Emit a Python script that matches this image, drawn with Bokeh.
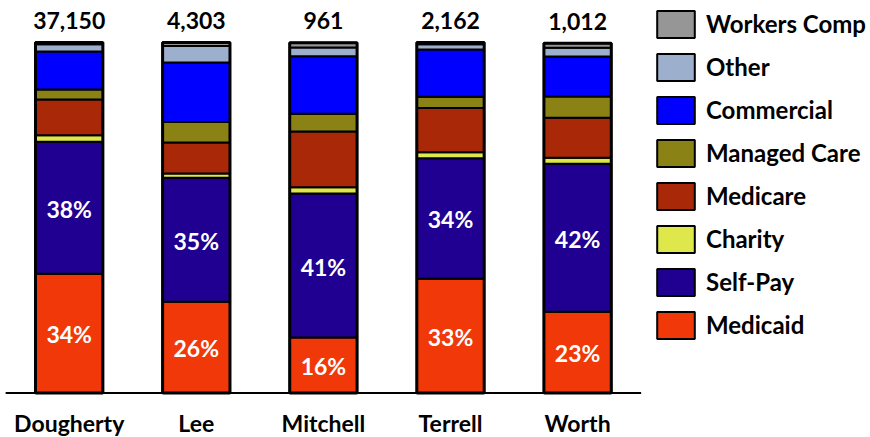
from bokeh.plotting import figure
from bokeh.models import ColumnDataSource, Range1d
from bokeh.embed import file_html
from bokeh.resources import INLINE
from bokeh.core.properties import value

# ---- data (percent of visits, bottom to top) ----
counties = ["Dougherty", "Lee", "Mitchell", "Terrell", "Worth"]
totals = [37150, 4303, 961, 2162, 1012]

medicaid = [34.0, 26.0, 15.8, 32.6, 23.2]
self_pay = [37.7, 35.4, 41.1, 34.4, 42.2]
charity = [1.8, 1.2, 1.8, 1.7, 1.7]
medicare = [10.2, 8.9, 15.9, 12.6, 11.4]
managed_care = [2.9, 5.8, 5.1, 3.2, 6.1]
commercial = [10.8, 17.0, 16.4, 13.5, 11.4]
other = [2.1, 4.7, 2.5, 1.5, 2.5]
workers_comp = [0.5, 1.0, 1.3, 0.5, 1.3]

series_names = ["Medicaid", "Self-Pay", "Charity", "Medicare",
                "Managed Care", "Commercial", "Other", "Workers Comp"]
series_values = [medicaid, self_pay, charity, medicare,
                 managed_care, commercial, other, workers_comp]
series_colors = ["#F03808", "#200090", "#DFE84A", "#A82808",
                 "#8A8214", "#0000FF", "#9CB0CE", "#969696"]

FONT = "Lato"

xs = list(range(len(counties)))
keys = [f"s{i}" for i in range(len(series_names))]
stack_top = [sum(vals) for vals in zip(*series_values)]
data = dict(x=xs, county=counties, total=[f"{t:,}" for t in totals],
            top=stack_top, base=[0.0] * len(xs))
for k, vals in zip(keys, series_values):
    data[k] = vals
source = ColumnDataSource(data)

p = figure(width=870, height=437,
           x_range=Range1d(-0.5405, 6.3045), y_range=Range1d(-12.70, 111.98),
           x_axis_type=None, y_axis_type=None,
           toolbar_location=None, output_backend="svg",
           min_border=0, outline_line_color=None,
           background_fill_color="white", border_fill_color="white")

p.vbar_stack(keys, x="x", width=0.53, color=series_colors, source=source,
             line_color="black", line_width=2, legend_label=series_names)

# heavier outline around each full bar
p.vbar(x="x", top="top", bottom="base", width=0.53, source=source,
       fill_color=None, line_color="black", line_width=3)

# baseline
p.segment(x0=[xs[0] - 0.5], x1=[xs[-1] + 0.5], y0=[0], y1=[0],
          line_color="black", line_width=2)

# percentage labels for Medicaid and Self-Pay
lab_x = xs + xs
lab_y = [m / 2 for m in medicaid] + [m + s / 2 for m, s in zip(medicaid, self_pay)]
lab_t = [f"{v:.0f}%" for v in medicaid] + [f"{v:.0f}%" for v in self_pay]
lab_src = ColumnDataSource(dict(x=lab_x, y=lab_y, t=lab_t))
p.text(x="x", y="y", text="t", source=lab_src, text_color="white",
       text_font=value(FONT), text_font_style="bold", text_font_size="23px",
       text_align="center", text_baseline="middle", y_offset=1)

# totals above bars
p.text(x="x", y="top", text="total", source=source, text_color="black",
       text_font=value(FONT), text_font_style="bold", text_font_size="23px",
       text_align="center", text_baseline="alphabetic", y_offset=-22)

# county names below
p.text(x="x", y="base", text="county", source=source, text_color="black",
       text_font=value(FONT), text_font_style="bold", text_font_size="23px",
       text_align="center", text_baseline="alphabetic", y_offset=30)

leg = p.legend[0]
leg.items = list(reversed(leg.items))
leg.location = (652, 95.5)
leg.margin = 0
leg.padding = 0
leg.spacing = 9
leg.glyph_width = 47
leg.glyph_height = 34
leg.label_height = 34
leg.label_standoff = 7
leg.border_line_color = None
leg.background_fill_alpha = 0
leg.label_text_font = FONT
leg.label_text_font_style = "bold"
leg.label_text_font_size = "24px"
leg.label_text_color = "black"

open("out.html", "w").write(file_html(p, INLINE))
